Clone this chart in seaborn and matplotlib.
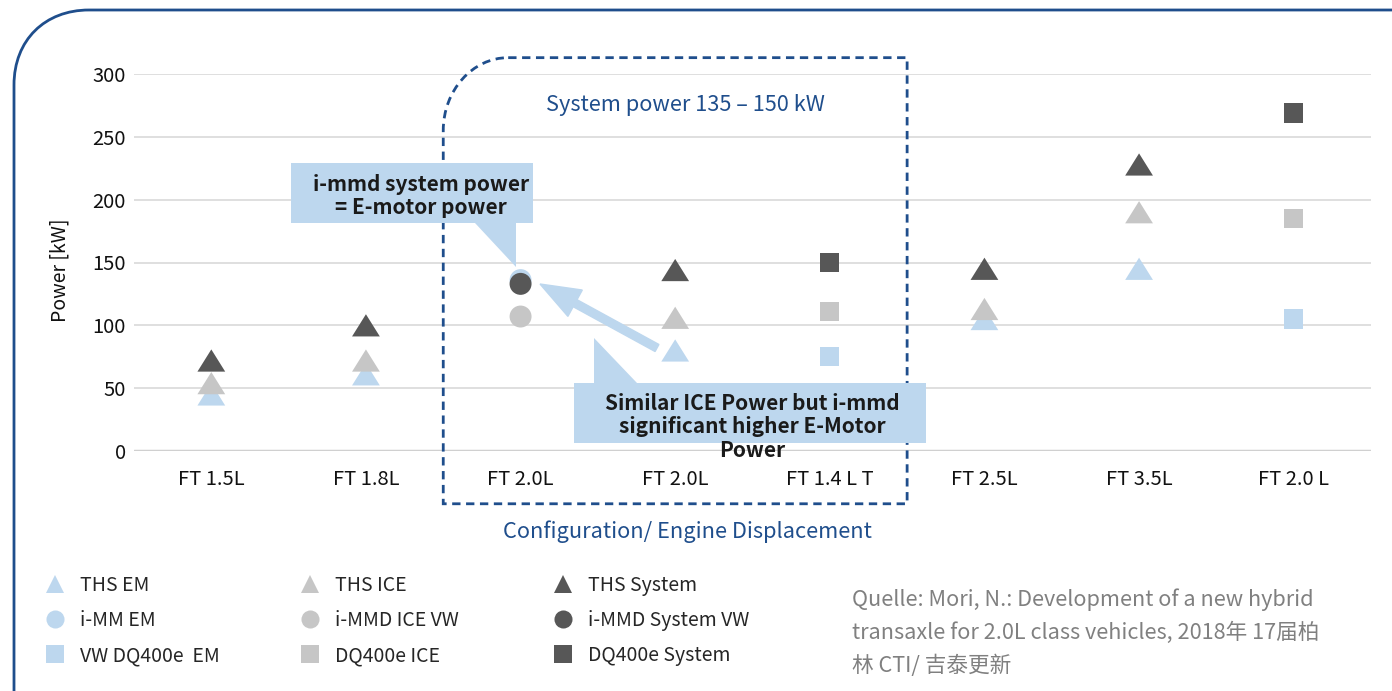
import numpy as np
import pandas as pd
import matplotlib
matplotlib.use("Agg")
import matplotlib.pyplot as plt
import seaborn as sns
from matplotlib.path import Path
from matplotlib.patches import PathPatch, Polygon, FancyArrow
from matplotlib.transforms import Affine2D
from matplotlib.lines import Line2D

# data
categories = ["FT 1.5L", "FT 1.8L", "FT 2.0L", "FT 2.0L", "FT 1.4 L T", "FT 2.5L", "FT 3.5L", "FT 2.0 L"]

ths_pos = [0, 1, 3, 5, 6]
ths_em = [45, 61, 80, 105, 145]
ths_ice = [54, 72, 106, 113, 190]
ths_sys = [72, 100, 144, 145, 228]

immd_pos = [2]
immd_em = [136]
immd_ice = [107]
immd_sys = [133]

dq_pos = [4, 7]
dq_em = [75, 105]
dq_ice = [111, 185]
dq_sys = [150, 269]

yticks = [0, 50, 100, 150, 200, 250, 300]

legend_cols = [["THS EM", "i-MM EM", "VW DQ400e  EM"],
               ["THS ICE", "i-MMD ICE VW", "DQ400e ICE"],
               ["THS System", "i-MMD System VW", "DQ400e System"]]

source_text = ("Quelle: Mori, N.: Development of a new hybrid\n"
               "transaxle for 2.0L class vehicles, 2018年 17届柏\n"
               "林 CTI/ 吉泰更新")

# colours
c_em = "#BDD7EE"
c_ice = "#C6C6C6"
c_sys = "#575757"
navy = "#1F4E8C"

sns.set_style("white")
plt.rcParams["font.family"] = ["Noto Sans CJK SC", "DejaVu Sans"]

W, H = 1392, 691
fig = plt.figure(figsize=(W / 100, H / 100), dpi=100)
pxT = Affine2D().scale(1 / W, -1 / H).translate(0, 1) + fig.transFigure


def px(x, y):
    return x / W, 1 - y / H


ax = fig.add_axes([134 / W, 1 - 451 / H, (1371 - 134) / W, (451 - 74) / H])

tri = [(-1.25, -1), (1.25, -1), (0, 1)]
groups = [
    (ths_pos, ths_em, ths_ice, ths_sys, tri, 400),
    (immd_pos, immd_em, immd_ice, immd_sys, "o", 250),
    (dq_pos, dq_em, dq_ice, dq_sys, "s", 190),
]
for pos, em, ice, sysv, mk, size in groups:
    df = pd.DataFrame({
        "x": pos * 3,
        "power": em + ice + sysv,
        "kind": ["EM"] * len(pos) + ["ICE"] * len(pos) + ["System"] * len(pos),
    })
    sns.scatterplot(data=df, x="x", y="power", hue="kind",
                    palette={"EM": c_em, "ICE": c_ice, "System": c_sys},
                    marker=mk, s=size, linewidth=0, legend=False,
                    ax=ax, clip_on=False, zorder=3)

ax.set_xlim(-0.5, len(categories) - 0.5)
ax.set_ylim(0, 300)
ax.set_xticks(range(len(categories)))
ax.set_xticklabels(categories)
ax.set_yticks(yticks)
ax.set_xlabel("")
ax.set_ylabel("")
ax.grid(axis="y", color="#D9D9D9", linewidth=1.2)
ax.axhline(0, color="#D0D0D0", linewidth=2.5, zorder=1)
for s in ax.spines.values():
    s.set_visible(False)
ax.tick_params(axis="both", length=0, labelsize=14.5, colors="#111111")
ax.tick_params(axis="x", pad=13)
ax.tick_params(axis="y", pad=6)

# dashed region (rounded top-left corner)
x0, x1, y0, y1 = 1.5, 4.5, -42, 313
rx, ry = 0.42, 58
verts = [(x0 + rx, y1), (x1, y1), (x1, y0), (x0, y0), (x0, y1 - ry),
         (x0, y1 - ry * 0.45), (x0 + rx * 0.45, y1), (x0 + rx, y1)]
codes = [Path.MOVETO, Path.LINETO, Path.LINETO, Path.LINETO, Path.LINETO,
         Path.CURVE4, Path.CURVE4, Path.CURVE4]
ax.add_patch(PathPatch(Path(verts, codes), fill=False, edgecolor=navy,
                       linewidth=2, linestyle=(0, (3, 2)), clip_on=False, zorder=4))

# outer frame
fverts = [(14, H + 20), (14, 85), (14, 40), (45, 10), (89, 10), (W + 20, 10)]
fcodes = [Path.MOVETO, Path.LINETO, Path.CURVE4, Path.CURVE4, Path.CURVE4, Path.LINETO]
fig.add_artist(PathPatch(Path(fverts, fcodes), fill=False, edgecolor=navy,
                         linewidth=2, transform=pxT))

# callouts
fig.add_artist(Polygon([(291, 163), (533, 163), (533, 223), (516, 223), (516, 267),
                        (475, 223), (291, 223)], closed=True, facecolor=c_em,
                       edgecolor="none", transform=pxT, zorder=5))
fig.add_artist(FancyArrow(657, 348, 540 - 657, 284 - 348, width=8, head_width=30,
                          head_length=40, length_includes_head=True, color=c_em,
                          transform=pxT, zorder=5))
fig.add_artist(Polygon([(574, 383), (594, 383), (594, 338), (637, 383), (926, 383),
                        (926, 443), (574, 443)], closed=True, facecolor=c_em,
                       edgecolor="none", transform=pxT, zorder=5))
fig.text(*px(421, 196), "i-mmd system power\n= E-motor power", ha="center", va="center",
         fontsize=15, fontweight="semibold", linespacing=1.15, color="#1a1a1a", zorder=6)
fig.text(*px(752, 427), "Similar ICE Power but i-mmd\nsignificant higher E-Motor\nPower",
         ha="center", va="center", fontsize=15, fontweight="semibold", linespacing=1.15,
         color="#1a1a1a", zorder=6)

fig.text(*px(685, 105), "System power 135 – 150 kW", ha="center", va="center",
         fontsize=15.7, fontweight="medium", color=navy)
fig.text(*px(687, 532), "Configuration/ Engine Displacement", ha="center", va="center",
         fontsize=15.7, fontweight="medium", color=navy)
fig.text(*px(60, 270), "Power [kW]", rotation=90, ha="center", va="center",
         fontsize=14, color="#111111")

# legend, three columns
markers = ["^", "o", "s"]
col_colors = [c_em, c_ice, c_sys]
col_x = [45, 300, 553]
for ci, labels in enumerate(legend_cols):
    handles = [Line2D([], [], linestyle="none", marker=m, markersize=13,
                      markerfacecolor=col_colors[ci], markeredgewidth=0)
               for m in markers]
    fig.legend(handles, labels, loc="upper left", bbox_to_anchor=px(col_x[ci], 575),
               frameon=False, fontsize=14, handlelength=1.0, handletextpad=0.8,
               labelspacing=0.72, borderpad=0, borderaxespad=0)

fig.text(*px(852, 588), source_text, ha="left", va="top", fontsize=15.6,
         color="#808080", linespacing=1.62, fontweight="medium")

fig.savefig("out.png", dpi=100)
